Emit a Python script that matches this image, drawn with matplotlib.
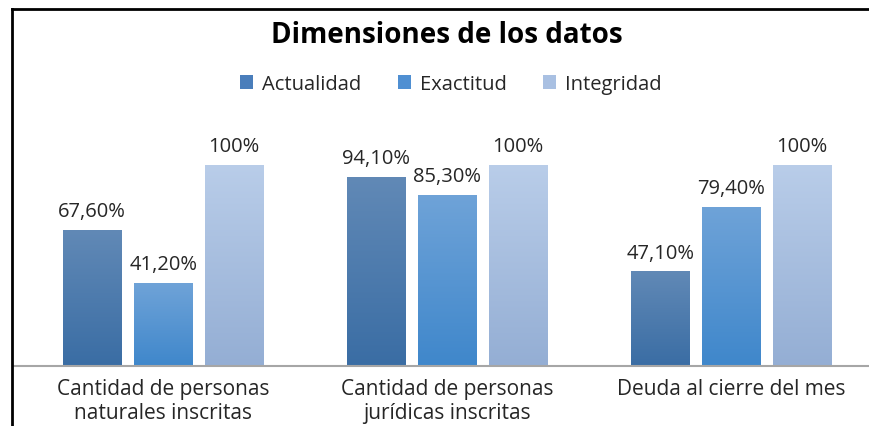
import matplotlib
matplotlib.use("Agg")
import matplotlib.pyplot as plt
import numpy as np
from matplotlib.colors import LinearSegmentedColormap
from matplotlib.lines import Line2D
from matplotlib.patches import Patch

plt.rcParams['font.family'] = ['Open Sans', 'DejaVu Sans']

categories = ["Cantidad de personas\nnaturales inscritas",
              "Cantidad de personas\njurídicas inscritas",
              "Deuda al cierre del mes"]
series_names = ["Actualidad", "Exactitud", "Integridad"]
actualidad = [67.6, 94.1, 47.1]
exactitud = [41.2, 85.3, 79.4]
integridad = [100, 100, 100]
labels_act = ["67,60%", "94,10%", "47,10%"]
labels_exa = ["41,20%", "85,30%", "79,40%"]
labels_int = ["100%", "100%", "100%"]

series = [actualidad, exactitud, integridad]
series_labels = [labels_act, labels_exa, labels_int]
grad = [("#6189b6", "#3a6da4"), ("#6fa3d8", "#3f87cb"), ("#b9cde9", "#94aed4")]
legend_cols = ["#4a7ebb", "#4f8fd2", "#a9c0e2"]

W, H = 869, 427
fig = plt.figure(figsize=(W / 100, H / 100), dpi=100)
base_y = 367
ax_bottom = (H - base_y) / H
ax_h = 261 / H
ax = fig.add_axes([14 / W, ax_bottom, (W - 14) / W, ax_h])
ax.set_xlim(-0.525, 2.485)
ax.set_ylim(0, 130)

x = np.arange(len(categories))
pitch = 0.25
width = 0.205
for i, (vals, labs, (ctop, cbot)) in enumerate(zip(series, series_labels, grad)):
    pos = x + (i - 1) * pitch
    bars = ax.bar(pos, vals, width=width, color="none", edgecolor="none", zorder=2)
    cmap = LinearSegmentedColormap.from_list("g%d" % i, [cbot, ctop])
    for b, lab in zip(bars, labs):
        x0 = b.get_x()
        x1 = x0 + b.get_width()
        h = b.get_height()
        g = np.linspace(0, 1, 256).reshape(-1, 1)
        im = ax.imshow(g, extent=(x0, x1, 0, h), origin="lower", aspect="auto",
                       cmap=cmap, zorder=2, interpolation="bilinear")
        im.set_clip_path(b)
        ax.annotate(lab, (x0 + b.get_width() / 2, h), xytext=(0, 10),
                    textcoords="offset points", ha="center", va="baseline",
                    fontsize=14.5, color="#262626")

ax.set_xlim(-0.525, 2.485)
ax.set_ylim(0, 130)
ax.set_yticks([])
ax.set_xticks(x)
ax.set_xticklabels(categories, fontsize=15, color="#262626", linespacing=1.15)
ax.tick_params(axis="x", length=0, pad=9)
for s in ["top", "right", "left"]:
    ax.spines[s].set_visible(False)
ax.spines["bottom"].set_color("#a6a6a6")
ax.spines["bottom"].set_linewidth(1.5)
ax.patch.set_alpha(0)

fig.text(447 / W, 1 - 43 / H, "Dimensiones de los datos", ha="center", va="baseline",
         fontsize=20, fontweight="bold", color="black")

handles = [Patch(facecolor=c, edgecolor="none") for c in legend_cols]
fig.legend(handles, series_names, loc="center", bbox_to_anchor=(451 / W, 1 - 85 / H),
           ncol=3, frameon=False, fontsize=14.5, handlelength=0.65, handleheight=0.65,
           handletextpad=0.45, columnspacing=1.8, labelcolor="#262626",
           borderpad=0, borderaxespad=0)

fig.add_artist(Line2D([12 / W, 12 / W], [0, 1 - 10 / H], color="black", lw=2,
                      transform=fig.transFigure))
fig.add_artist(Line2D([12 / W, 1], [1 - 10 / H, 1 - 10 / H], color="black", lw=2,
                      transform=fig.transFigure))

fig.savefig("out.png", dpi=100)
